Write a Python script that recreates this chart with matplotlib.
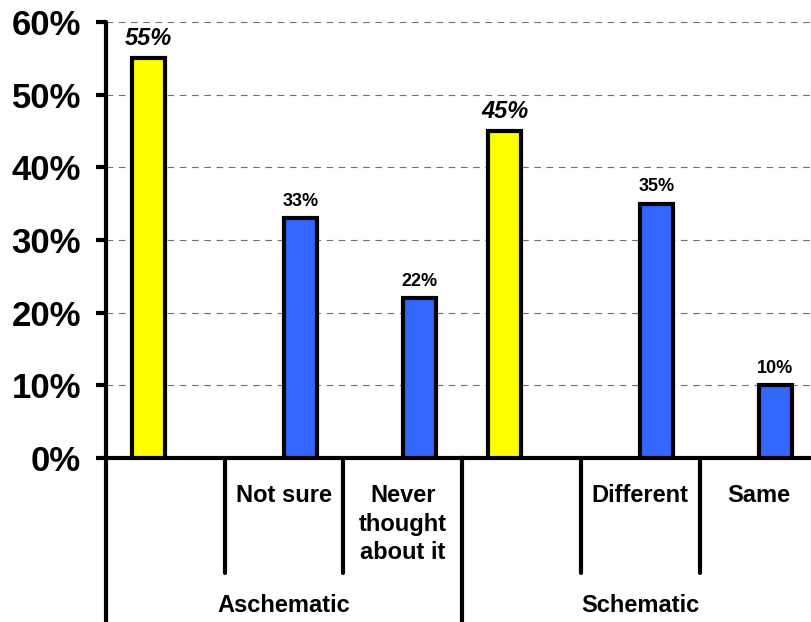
import numpy as np
import matplotlib
matplotlib.use('Agg')
from matplotlib import pyplot as plt
import matplotlib.transforms as mtransforms

plt.rcParams['font.family'] = ['Liberation Sans', 'DejaVu Sans']
plt.rcParams['font.weight'] = 'bold'

# Data
categories = ['', 'Not sure', 'Never\nthought\nabout it', '', 'Different', 'Same']
groups = ['Aschematic', 'Schematic']
yellow_vals = [55, None, None, 45, None, None]
blue_vals = [None, 33, 22, None, 35, 10]
yticks = [0, 10, 20, 30, 40, 50, 60]

fig = plt.figure(figsize=(8.11, 6.22), dpi=100)
ax = fig.add_axes([106 / 811, (622 - 458) / 622, 705 / 811, 436 / 622])

x = np.arange(len(categories))
width = 0.28
offset = 0.14
lw = 3.0

for vals, color, dx, italic, size in [(yellow_vals, '#FFFF00', -offset, True, 17),
                                       (blue_vals, '#3366FF', offset, False, 13)]:
    xs = [xi + dx for xi, v in zip(x, vals) if v is not None]
    hs = [v for v in vals if v is not None]
    bars = ax.bar(xs, hs, width=width, color=color, edgecolor='black', linewidth=lw, zorder=3)
    for b, h in zip(bars, hs):
        ax.annotate(f'{h}%', (b.get_x() + b.get_width() / 2, h), xytext=(0, 6),
                    textcoords='offset points', ha='center', va='bottom',
                    fontsize=size, fontweight='bold',
                    fontstyle='italic' if italic else 'normal')

ax.set_ylim(0, 60)
ax.set_xlim(-0.5, -0.5 + 705 / 118.7)
ax.set_yticks(yticks)
ax.set_yticklabels([f'{t}%' for t in yticks], fontsize=25, fontweight='bold')
ax.tick_params(axis='y', length=7, width=lw, pad=11)
ax.set_xticks([])
ax.yaxis.grid(True, linestyle=(0, (6, 5)), color='#707070', linewidth=0.8, zorder=0)
ax.set_axisbelow(True)

for s in ['top', 'right']:
    ax.spines[s].set_visible(False)
for s in ['left', 'bottom']:
    ax.spines[s].set_linewidth(lw)
    ax.spines[s].set_capstyle('round')

trans = mtransforms.blended_transform_factory(ax.transData, ax.transAxes)

# category separators
for xb in [0.5, 1.5, 3.5, 4.5]:
    ax.plot([xb, xb], [0, -0.264], transform=trans, color='black', lw=lw,
            clip_on=False, solid_capstyle='round')
for xb in [-0.5, 2.5, 5.5]:
    ax.plot([xb, xb], [0, -0.45], transform=trans, color='black', lw=lw,
            clip_on=False)

# category labels
for xi, lab in zip(x, categories):
    if lab:
        ax.text(xi, -0.06, lab, transform=trans, ha='center', va='top',
                fontsize=17, fontweight='bold', linespacing=1.3)

# group labels
for gi, g in enumerate(groups):
    ax.text(gi * 3 + 1, -0.338, g, transform=trans, ha='center', va='center',
            fontsize=17, fontweight='bold')

fig.savefig('out.png', dpi=100)
